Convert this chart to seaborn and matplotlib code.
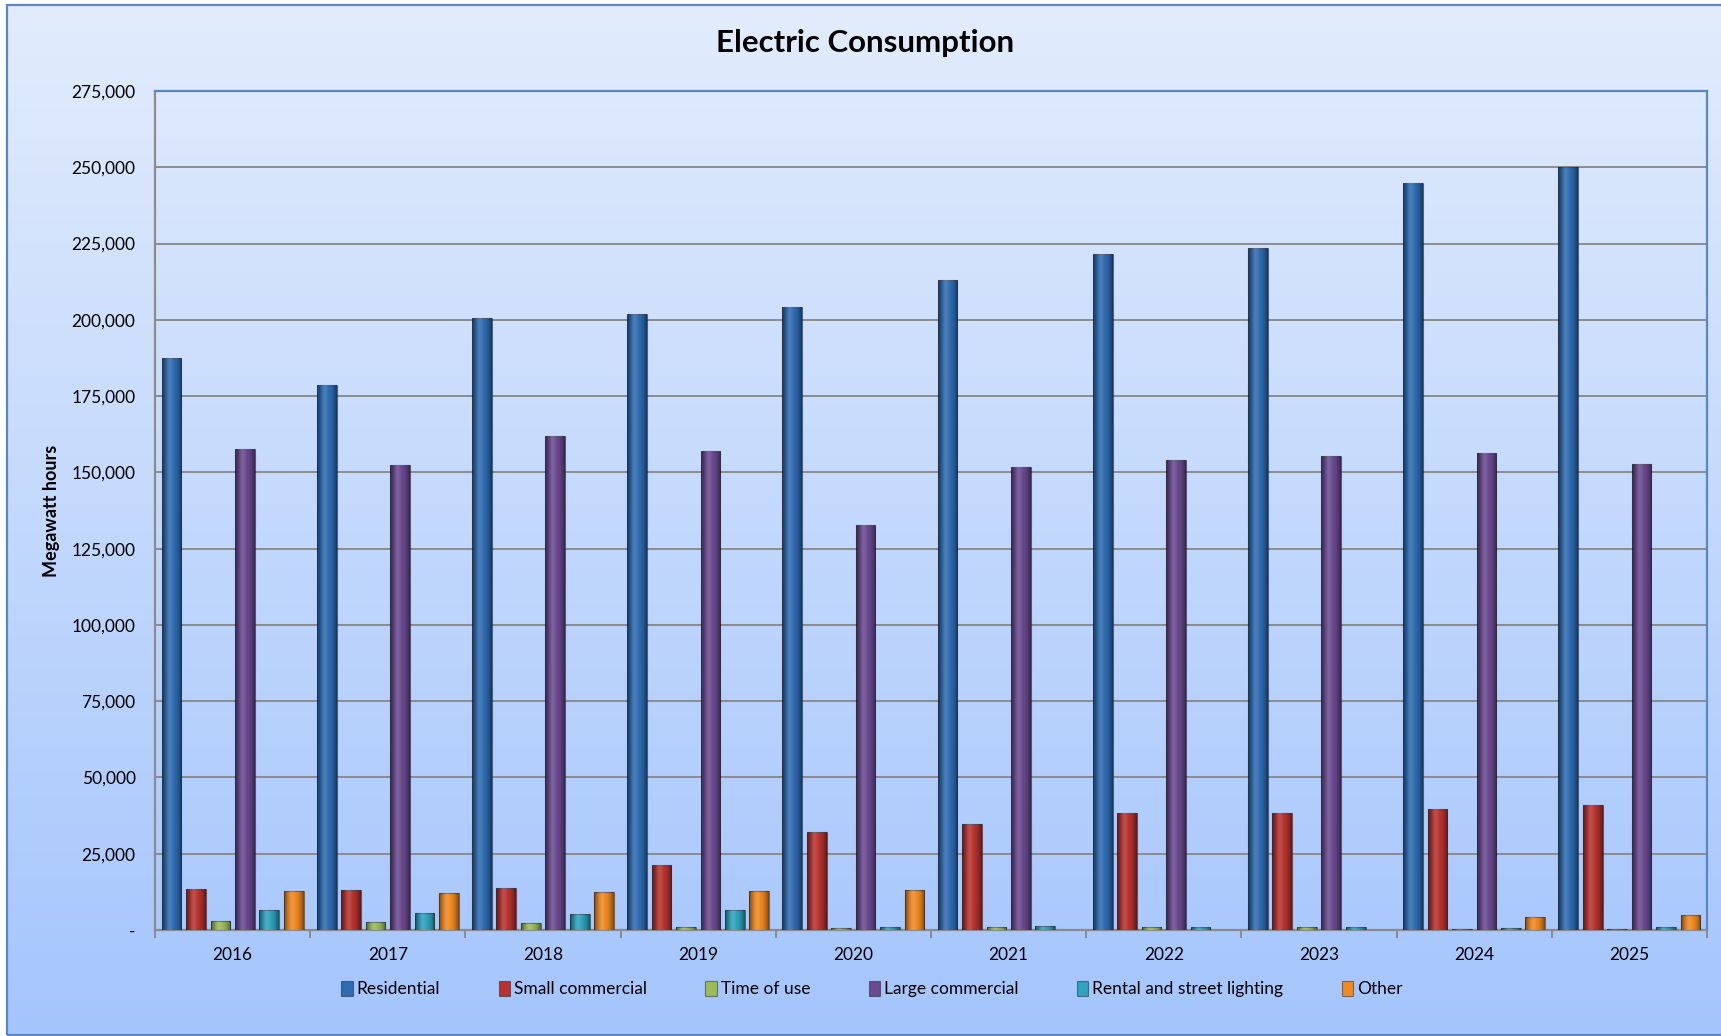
import matplotlib.pyplot as plt
import matplotlib.ticker as tik
import matplotlib.patches as mpatches
import seaborn as sns
import numpy as np
import pandas as pd

#### data (megawatt hours)
years = ["2016", "2017", "2018", "2019", "2020", "2021", "2022", "2023", "2024", "2025"]
residential = [187500, 178500, 200500, 202000, 204100, 213100, 221500, 223500, 244800, 250200]
small_commercial = [13400, 13100, 13800, 21200, 32000, 34600, 38200, 38500, 39600, 41000]
time_of_use = [2900, 2600, 2300, 1000, 750, 1000, 900, 900, 300, 300]
large_commercial = [157700, 152300, 162000, 156900, 132800, 151900, 154100, 155500, 156200, 152600]
rental_lighting = [6450, 5500, 5400, 6650, 1000, 1300, 900, 900, 600, 1000]
other = [12700, 12100, 12300, 12900, 13100, 0, 0, 0, 4300, 4800]

series_names = ["Residential", "Small commercial", "Time of use", "Large commercial",
                "Rental and street lighting", "Other"]
series_vals = [residential, small_commercial, time_of_use, large_commercial, rental_lighting, other]
colors = ["#2f6cb2", "#b8332f", "#9bbb59", "#6b4a91", "#2fa3bf", "#f08a22"]

rows = []
for name, vals in zip(series_names, series_vals):
    for y, v in zip(years, vals):
        rows.append({"year": y, "series": name, "mwh": v})
df = pd.DataFrame(rows)

plt.rcParams['font.family'] = ['Lato', 'DejaVu Sans']

fig = plt.figure(figsize=(17.21, 10.36), dpi=100)

# gradient background inside the chart border
bg = fig.add_axes([7/1721, 0, 1 - 7/1721, 1 - 5/1036], zorder=-5)
top_c = np.array([226, 236, 252]) / 255
bot_c = np.array([164, 197, 253]) / 255
t = np.linspace(0, 1, 256)[:, None]
grad = top_c[None, :] * (1 - t) + bot_c[None, :] * t
bg.imshow(grad[:, None, :], aspect="auto", extent=[0, 1, 0, 1])
bg.set_axis_off()

# chart border
fig.patches.append(mpatches.Rectangle((7/1721, 1/1036), 1.0, 1 - 6/1036, transform=fig.transFigure,
                                      fill=False, edgecolor="#5b86bf", linewidth=1.6))

ax = fig.add_axes([155/1721, 1 - 930/1036, (1707 - 155)/1721, (930 - 91)/1036])
ax.set_facecolor("none")

sns.barplot(data=df, x="year", y="mwh", hue="series", palette=colors,
            width=0.944, gap=0.19, ax=ax, saturation=1,
            edgecolor="#00000066", linewidth=0.8, zorder=3)

# cylinder-ish shading on each bar
shade = np.zeros((1, 64, 4))
xx = np.linspace(-1, 1, 64)
shade[0, :, 3] = 0.48 * np.abs(xx) ** 2.0
hi = np.zeros((1, 64, 4))
hi[0, :, :3] = 1.0
hi[0, :, 3] = 0.16 * np.clip(1 - np.abs(xx + 0.25) * 2.2, 0, 1)
for p in list(ax.patches):
    h = p.get_height()
    if h <= 0:
        continue
    x0 = p.get_x()
    w = p.get_width()
    for g in (shade, hi):
        im = ax.imshow(g, extent=[x0, x0 + w, 0, h], aspect="auto", zorder=3.5, interpolation="bilinear")
        im.set_clip_path(p)

ax.set_xlim(-0.5, 9.5)
ax.set_ylim(0, 275000)
ax.set_yticks(np.arange(0, 275001, 25000))
ax.yaxis.set_major_formatter(tik.FuncFormatter(lambda v, pos: "-" if v == 0 else f"{v:,.0f}"))
ax.grid(axis="y", color="#8c8c8c", linewidth=1.4, zorder=0)
ax.set_axisbelow(True)
ax.tick_params(axis="y", length=0, pad=14, labelsize=12.5)
ax.tick_params(axis="x", which="major", length=0, pad=12, labelsize=12.5)
ax.set_xticks(np.arange(-0.5, 10, 1), minor=True)
ax.tick_params(axis="x", which="minor", length=6, color="#8c8c8c", width=1.4)

for s in ["left", "bottom"]:
    ax.spines[s].set_color("#8c8c8c")
    ax.spines[s].set_linewidth(1.6)
for s in ["top", "right"]:
    ax.spines[s].set_color("#5b86bf")
    ax.spines[s].set_linewidth(1.6)

ax.set_xlabel("")
ax.set_ylabel("Megawatt hours", fontsize=13, fontweight="bold", labelpad=8)

handles, labels = ax.get_legend_handles_labels()
ax.legend_.remove()
fig.legend(handles, labels, loc="center", bbox_to_anchor=(872/1721, 1 - 989/1036), ncol=6,
           frameon=False, fontsize=12.5, handlelength=0.65, handleheight=1.0,
           handletextpad=0.25, columnspacing=3.35)

fig.text(865/1721, 1 - 43/1036, "Electric Consumption", ha="center", va="center",
         fontsize=22.5, fontweight="bold")

plt.savefig("out.png", dpi=100)
